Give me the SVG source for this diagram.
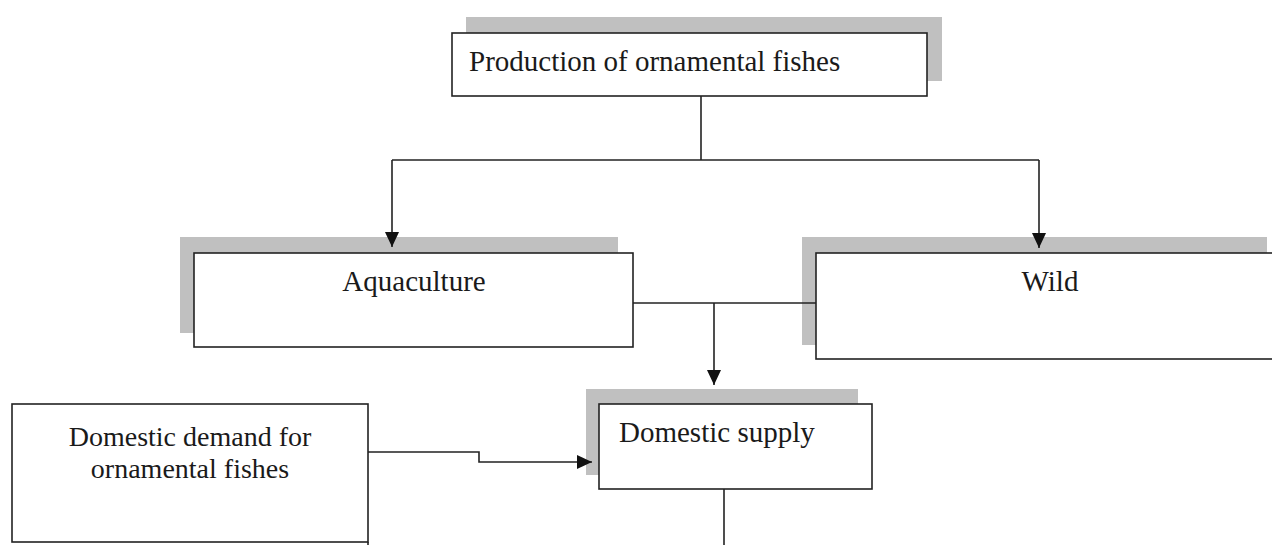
<svg xmlns="http://www.w3.org/2000/svg" width="1272" height="545" viewBox="0 0 1272 545">
<defs>
<style>
.shadow{fill:#c0c0c0;}
.box{fill:#ffffff;stroke:#222222;stroke-width:1.6;}
.lbl{font-family:"Liberation Serif","Times New Roman",serif;font-size:29px;fill:#1a1a1a;}
.c{text-anchor:middle;}
.conn{fill:none;stroke:#222222;stroke-width:1.6;}
</style>
<marker id="ah" markerUnits="userSpaceOnUse" markerWidth="15" markerHeight="14" refX="15" refY="7" orient="auto" viewBox="0 0 15 14">
<path d="M0,0 L15,7 L0,14 z" fill="#111111"/>
</marker>
</defs>
<rect width="1272" height="545" fill="#ffffff"/>
<g id="node-production">
<rect class="shadow" x="466" y="17" width="476" height="64"/>
<rect class="box" x="452" y="33" width="475" height="63"/>
<text class="lbl" x="469" y="71">Production of ornamental fishes</text>
</g>
<g id="node-aquaculture">
<rect class="shadow" x="180" y="237" width="438" height="96"/>
<rect class="box" x="194" y="253" width="439" height="94"/>
<text class="lbl c" x="414" y="291">Aquaculture</text>
</g>
<g id="node-wild">
<rect class="shadow" x="802" y="237" width="465" height="108"/>
<rect class="box" x="816" y="253" width="470" height="106"/>
<text class="lbl c" x="1050" y="291">Wild</text>
</g>
<g id="node-domestic-supply">
<rect class="shadow" x="586" y="389" width="272" height="86"/>
<rect class="box" x="599" y="404" width="273" height="85"/>
<text class="lbl" x="619" y="442">Domestic supply</text>
</g>
<g id="node-domestic-demand">
<rect class="box" x="12" y="404" width="356" height="138"/>
<text class="lbl c" style="font-size:28px" x="190" y="446"><tspan x="190" y="446">Domestic demand for</tspan><tspan x="190" y="478">ornamental fishes</tspan></text>
</g>
<g id="connectors">
<path class="conn" d="M701,96 V160"/>
<path class="conn" d="M392,160 H1039"/>
<path class="conn" d="M392,160 V247" marker-end="url(#ah)"/>
<path class="conn" d="M1039,160 V248" marker-end="url(#ah)"/>
<path class="conn" d="M633,303 H816"/>
<path class="conn" d="M714,303 V385" marker-end="url(#ah)"/>
<path class="conn" d="M368,452 H479 V462 H592" marker-end="url(#ah)"/>
<path class="conn" d="M724,489 V545"/>
<path class="conn" d="M368,542 V545"/>
</g>
</svg>
